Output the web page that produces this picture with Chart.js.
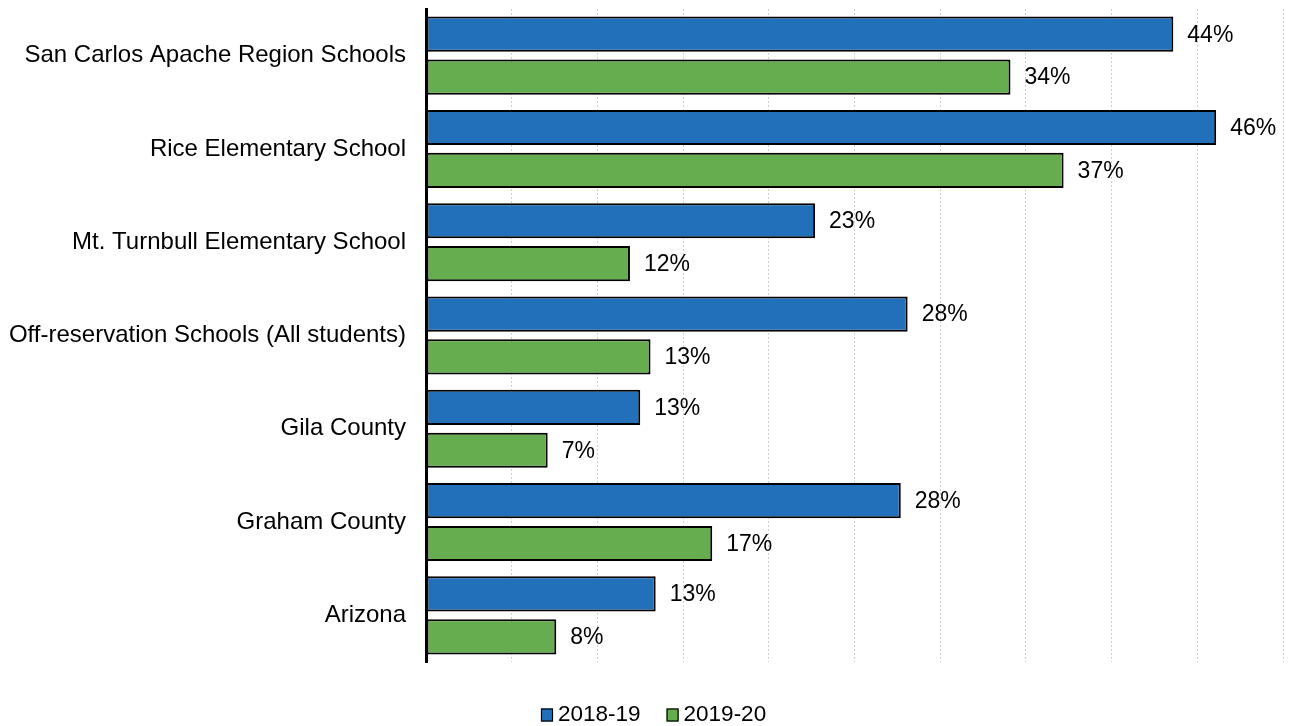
<!DOCTYPE html>
<html>
<head>
<meta charset="utf-8">
<script src="https://cdn.jsdelivr.net/npm/chart.js@4/dist/chart.umd.min.js"></script>
<style>
html,body{margin:0;padding:0;background:#fff;}
#wrap{width:1291px;height:726px;position:relative;}
</style>
</head>
<body>
<div id="wrap"><canvas id="c" width="1291" height="726"></canvas></div>
<script>
const categories = [
  "San Carlos Apache Region Schools",
  "Rice Elementary School",
  "Mt. Turnbull Elementary School",
  "Off-reservation Schools (All students)",
  "Gila County",
  "Graham County",
  "Arizona"
];
const seriesNames = ["2018-19", "2019-20"];
const values2018 = [43.6, 46.1, 22.7, 28.1, 12.5, 27.7, 13.4];
const values2019 = [34.1, 37.2, 11.9, 13.1, 7.1, 16.7, 7.6];
const labels2018 = ["44%", "46%", "23%", "28%", "13%", "28%", "13%"];
const labels2019 = ["34%", "37%", "12%", "13%", "7%", "17%", "8%"];
const xTicks = [0, 5, 10, 15, 20, 25, 30, 35, 40, 45, 50];

const FONT = "'Liberation Sans', Arial, sans-serif";

const valueLabels = {
  id: 'valueLabels',
  afterDatasetsDraw(chart) {
    const ctx = chart.ctx;
    const texts = [labels2018, labels2019];
    ctx.save();
    ctx.font = "23px " + FONT;
    ctx.fillStyle = "#000";
    ctx.textAlign = "left";
    ctx.textBaseline = "middle";
    chart.data.datasets.forEach((ds, di) => {
      const meta = chart.getDatasetMeta(di);
      meta.data.forEach((bar, i) => {
        ctx.fillText(texts[di][i], bar.x + 14, bar.y + 1);
      });
    });
    ctx.restore();
  }
};

const bottomLegend = {
  id: 'bottomLegend',
  afterDraw(chart) {
    const ctx = chart.ctx;
    ctx.save();
    ctx.font = "22.5px " + FONT;
    ctx.textBaseline = "middle";
    ctx.textAlign = "left";
    const boxW = 12, boxH = 13, gapText = 5, gapItem = 26;
    const items = chart.data.datasets.map(ds => ({ text: ds.label, color: ds.backgroundColor, w: ctx.measureText(ds.label).width }));
    let x = 541;
    const cy = 715;
    items.forEach((it) => {
      ctx.fillStyle = it.color;
      ctx.fillRect(x, cy - boxH / 2, boxW, boxH);
      ctx.strokeStyle = '#000';
      ctx.lineWidth = 1.2;
      ctx.strokeRect(x + 0.5, cy - boxH / 2 + 0.5, boxW - 1, boxH - 1);
      ctx.fillStyle = '#000';
      ctx.fillText(it.text, x + boxW + gapText, cy);
      x += boxW + gapText + it.w + gapItem;
    });
    ctx.restore();
  }
};

new Chart(document.getElementById('c'), {
  type: 'bar',
  data: {
    labels: categories,
    datasets: [
      {
        label: seriesNames[0],
        data: values2018,
        backgroundColor: '#2370BA',
        borderColor: '#000',
        borderWidth: 2,
        borderSkipped: false,
        categoryPercentage: 0.92,
        barPercentage: 0.82
      },
      {
        label: seriesNames[1],
        data: values2019,
        backgroundColor: '#66AD50',
        borderColor: '#000',
        borderWidth: 2,
        borderSkipped: false,
        categoryPercentage: 0.92,
        barPercentage: 0.82
      }
    ]
  },
  options: {
    indexAxis: 'y',
    responsive: false,
    animation: false,
    layout: { padding: { top: 9, right: 8, left: 0, bottom: 0 } },
    plugins: {
      legend: { display: false },
      tooltip: { enabled: false }
    },
    scales: {
      x: {
        min: 0,
        max: 50,
        afterBuildTicks(scale) { scale.ticks = xTicks.map(v => ({ value: v })); },
        ticks: { display: false },
        grid: { color: '#cfcfcf', lineWidth: 1, drawTicks: false },
        border: { display: false, dash: [2, 2] },
        afterFit(scale) { scale.height = 64; scale.paddingLeft = 0; scale.paddingRight = 0; }
      },
      y: {
        grid: { display: false, drawTicks: false },
        border: { color: '#000', width: 3 },
        ticks: {
          font: { family: FONT, size: 24 },
          color: '#000',
          padding: 20
        },
        afterFit(scale) { scale.width = 426; scale.paddingTop = 0; scale.paddingBottom = 0; }
      }
    }
  },
  plugins: [valueLabels, bottomLegend]
});
</script>
</body>
</html>
